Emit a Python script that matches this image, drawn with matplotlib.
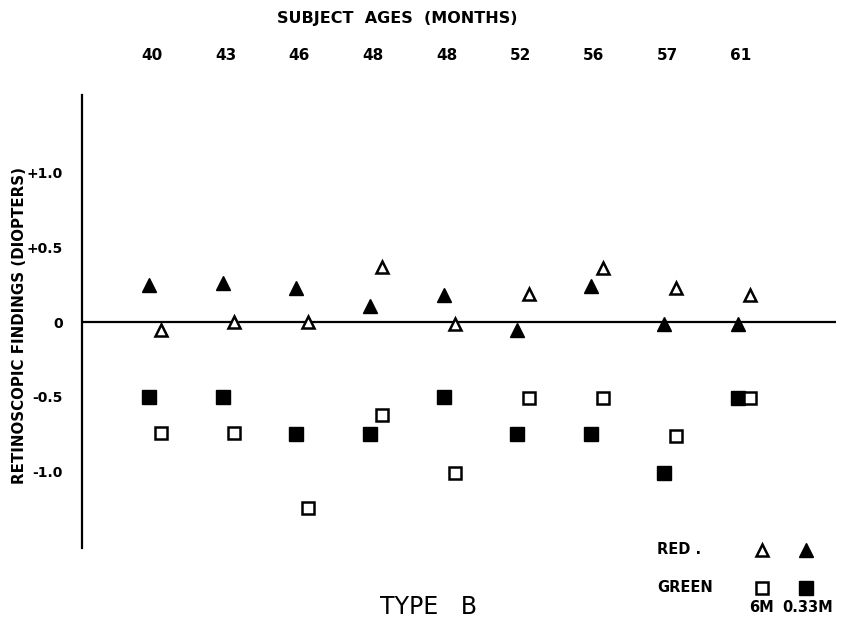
import numpy as np
import matplotlib
matplotlib.use("Agg")
import matplotlib.pyplot as plt

# ---- data ----
ages = ["40", "43", "46", "48", "48", "52", "56", "57", "61"]
red_033m   = [0.25, 0.26, 0.23, 0.11, 0.18, -0.05, 0.24, -0.01, -0.01]   # filled triangles
red_6m     = [-0.05, 0.00, 0.00, 0.37, -0.01, 0.19, 0.36, 0.23, 0.18]    # open triangles
green_033m = [-0.50, -0.50, -0.75, -0.75, -0.50, -0.75, -0.75, -1.01, -0.51]  # filled squares
green_6m   = [-0.74, -0.74, -1.24, -0.62, -1.01, -0.51, -0.51, -0.76, -0.51]  # open squares
ytick_vals = [1.0, 0.5, 0.0, -0.5, -1.0]
ytick_labels = ["+1.0", "+0.5", "0", "-0.5", "-1.0"]

W, H = 842, 623
fig = plt.figure(figsize=(W/100, H/100), dpi=100)
ax = fig.add_axes([82/W, 1-548/H, (836-82)/W, (548-95)/H])

idx = np.arange(len(ages))
xf = idx - 0.0
xo = idx + 0.16

ms = 10
ax.plot(xf, red_033m, linestyle="none", marker="^", ms=ms, mfc="black", mec="black", zorder=3)
ax.plot(xo, red_6m, linestyle="none", marker="^", ms=ms-1, mfc="white", mec="black", mew=1.8, zorder=3)
ax.plot(xf, green_033m, linestyle="none", marker="s", ms=ms, mfc="black", mec="black", zorder=3)
ax.plot(xo, green_6m, linestyle="none", marker="s", ms=ms-1, mfc="white", mec="black", mew=1.8, zorder=3)

ax.axhline(0, color="black", lw=1.6, zorder=2)

ax.set_xlim(-0.91, 9.33)
ax.set_ylim(-1.51, 1.52)

for s in ["top", "right", "bottom"]:
    ax.spines[s].set_visible(False)
ax.spines["left"].set_linewidth(1.6)

ax.set_yticks(ytick_vals)
ax.set_yticklabels(ytick_labels, fontsize=10, fontweight="bold")
ax.tick_params(axis="y", length=0, pad=14)

ax.xaxis.tick_top()
ax.set_xticks(idx + 0.04)
ax.set_xticklabels(ages, fontsize=11, fontweight="bold")
ax.tick_params(axis="x", length=0, pad=23)

ax.set_ylabel("RETINOSCOPIC FINDINGS (DIOPTERS)", fontsize=10.8, fontweight="bold")
ax.yaxis.set_label_coords(-55 / (836-82), (548-325)/(548-95))

fig.text(397/W, 1-18/H, "SUBJECT  AGES  (MONTHS)", ha="center", va="center", fontsize=11.5, fontweight="bold")
fig.text(429/W, 1-607/H, "TYPE   B", ha="center", va="center", fontsize=17)

# legend
fig.text(657/W, 1-550/H, "RED .", ha="left", va="center", fontsize=10.5, fontweight="bold")
fig.text(657/W, 1-588/H, "GREEN", ha="left", va="center", fontsize=10.5, fontweight="bold")
fig.text(762/W, 1-607/H, "6M", ha="center", va="center", fontsize=10.5, fontweight="bold")
fig.text(808/W, 1-607/H, "0.33M", ha="center", va="center", fontsize=10.5, fontweight="bold")
tf = fig.transFigure
ax.plot([762/W], [1-550/H], transform=tf, marker="^", ms=ms-1, mfc="white", mec="black", mew=1.8, clip_on=False)
ax.plot([806/W], [1-550/H], transform=tf, marker="^", ms=ms, mfc="black", mec="black", clip_on=False)
ax.plot([762/W], [1-588/H], transform=tf, marker="s", ms=ms-1, mfc="white", mec="black", mew=1.8, clip_on=False)
ax.plot([806/W], [1-588/H], transform=tf, marker="s", ms=ms, mfc="black", mec="black", clip_on=False)

fig.savefig("out.png", dpi=100, facecolor="white")
